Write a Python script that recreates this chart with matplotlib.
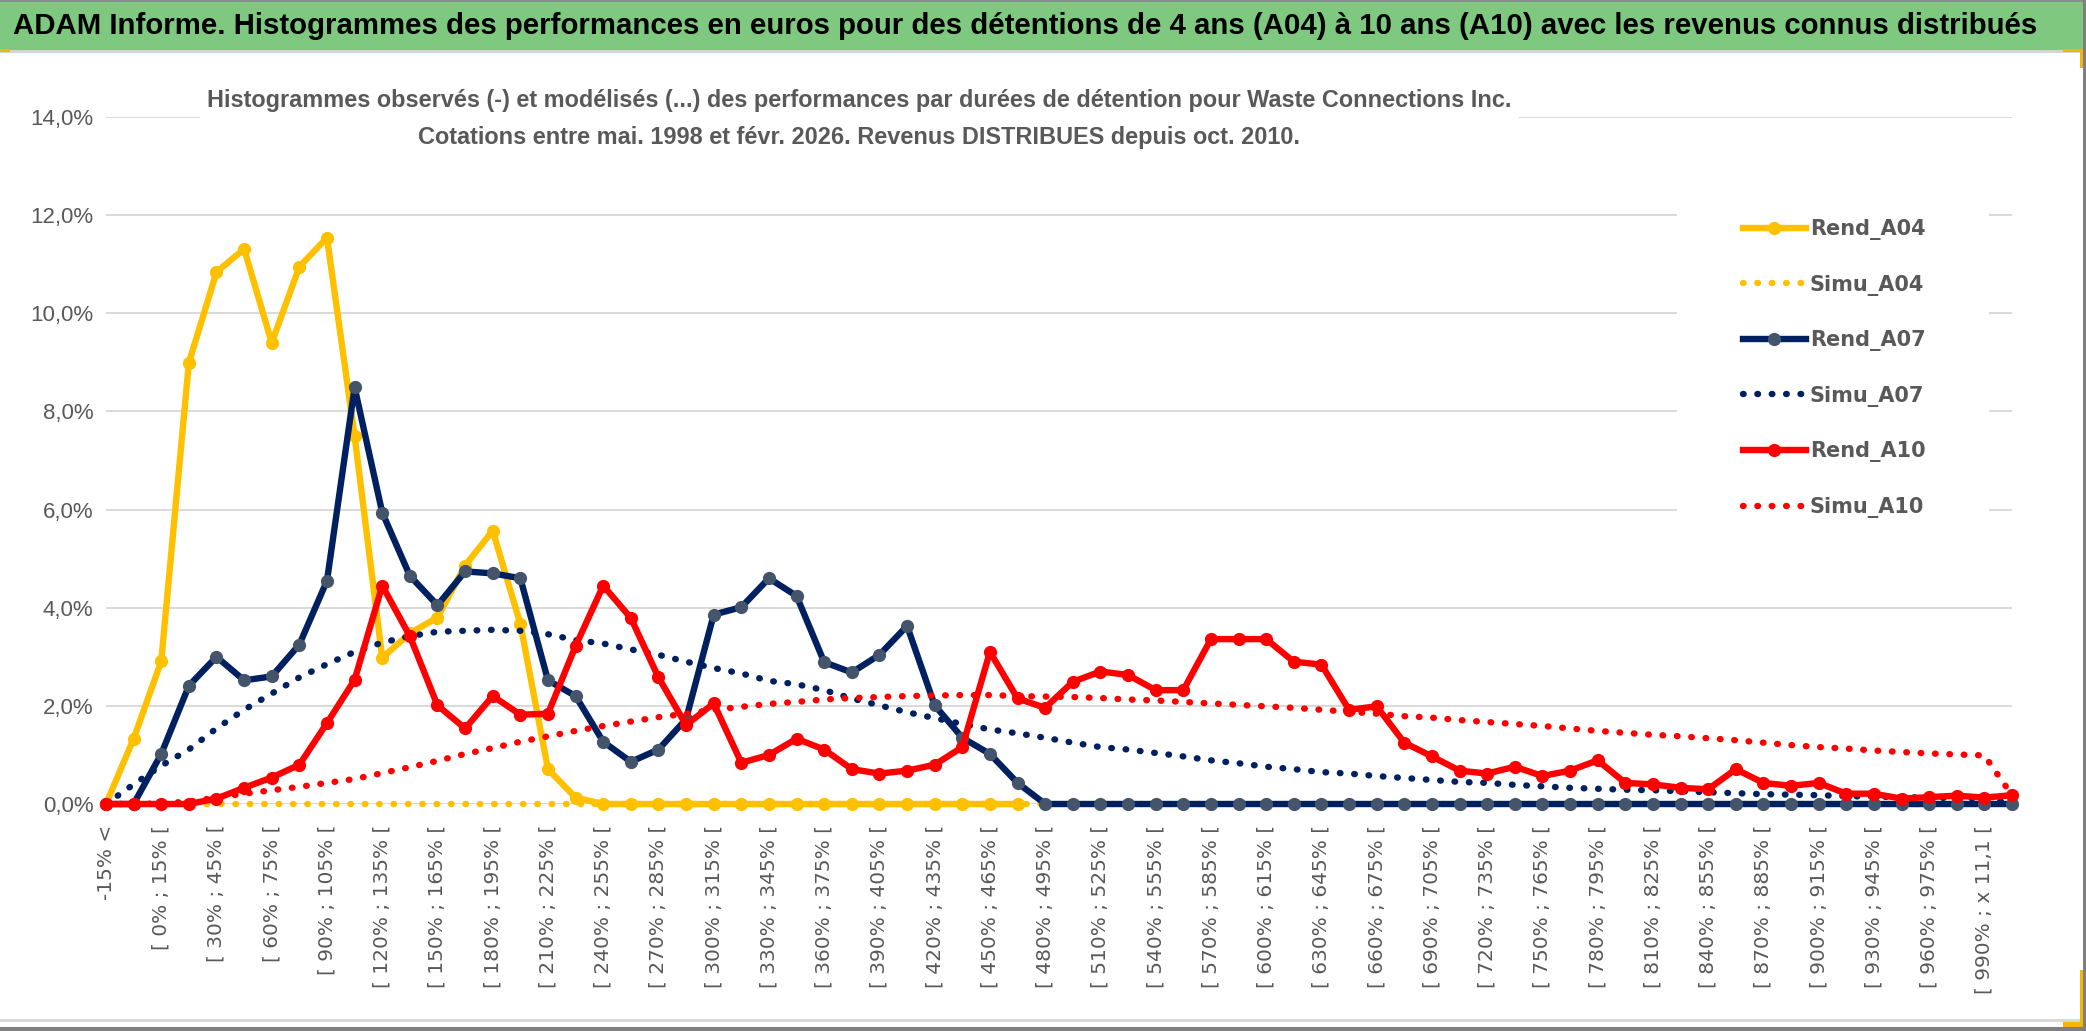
import matplotlib
matplotlib.use("Agg")
import matplotlib.pyplot as plt
from matplotlib.patches import Rectangle
from matplotlib.ticker import FuncFormatter
import numpy as np

W, H = 2086, 1031

NARROW = ['Liberation Sans Narrow', 'Liberation Sans', 'DejaVu Sans']
GRAY_TXT = '#595959'

# ---- data (values in %) ----
categories = [
    "-15% <", "[ -15% ; 0% [", "[ 0% ; 15% [", "[ 15% ; 30% [", "[ 30% ; 45% [",
    "[ 45% ; 60% [", "[ 60% ; 75% [", "[ 75% ; 90% [", "[ 90% ; 105% [", "[ 105% ; 120% [",
    "[ 120% ; 135% [", "[ 135% ; 150% [", "[ 150% ; 165% [", "[ 165% ; 180% [", "[ 180% ; 195% [",
    "[ 195% ; 210% [", "[ 210% ; 225% [", "[ 225% ; 240% [", "[ 240% ; 255% [", "[ 255% ; 270% [",
    "[ 270% ; 285% [", "[ 285% ; 300% [", "[ 300% ; 315% [", "[ 315% ; 330% [", "[ 330% ; 345% [",
    "[ 345% ; 360% [", "[ 360% ; 375% [", "[ 375% ; 390% [", "[ 390% ; 405% [", "[ 405% ; 420% [",
    "[ 420% ; 435% [", "[ 435% ; 450% [", "[ 450% ; 465% [", "[ 465% ; 480% [", "[ 480% ; 495% [",
    "[ 495% ; 510% [", "[ 510% ; 525% [", "[ 525% ; 540% [", "[ 540% ; 555% [", "[ 555% ; 570% [",
    "[ 570% ; 585% [", "[ 585% ; 600% [", "[ 600% ; 615% [", "[ 615% ; 630% [", "[ 630% ; 645% [",
    "[ 645% ; 660% [", "[ 660% ; 675% [", "[ 675% ; 690% [", "[ 690% ; 705% [", "[ 705% ; 720% [",
    "[ 720% ; 735% [", "[ 735% ; 750% [", "[ 750% ; 765% [", "[ 765% ; 780% [", "[ 780% ; 795% [",
    "[ 795% ; 810% [", "[ 810% ; 825% [", "[ 825% ; 840% [", "[ 840% ; 855% [", "[ 855% ; 870% [",
    "[ 870% ; 885% [", "[ 885% ; 900% [", "[ 900% ; 915% [", "[ 915% ; 930% [", "[ 930% ; 945% [",
    "[ 945% ; 960% [", "[ 960% ; 975% [", "[ 975% ; 990% [", "[ 990% ; x 11,1 [", "x 11,1 <",
]

nan = np.nan
rend_a04 = [0.0, 1.33, 2.91, 8.99, 10.84, 11.31, 9.40, 10.95, 11.54, 7.50,
            2.98, 3.48, 3.80, 4.86, 5.57, 3.67, 0.71, 0.13, 0.0, 0.0,
            0.0, 0.0, 0.0, 0.0, 0.0, 0.0, 0.0, 0.0, 0.0, 0.0,
            0.0, 0.0, 0.0, 0.0, nan, nan, nan, nan, nan, nan,
            nan, nan, nan, nan, nan, nan, nan, nan, nan, nan,
            nan, nan, nan, nan, nan, nan, nan, nan, nan, nan,
            nan, nan, nan, nan, nan, nan, nan, nan, nan, nan]
simu_a04 = [0.0, 0.0, 0.0, 0.0, 0.0, 0.0, 0.0, 0.0, 0.0, 0.0,
            0.0, 0.0, 0.0, 0.0, 0.0, 0.0, 0.0, 0.0, 0.0, 0.0,
            0.0, 0.0, 0.0, 0.0, 0.0, 0.0, 0.0, 0.0, 0.0, 0.0,
            0.0, 0.0, 0.0, 0.0, 0.0, 0.0, 0.0, 0.0, 0.0, 0.0,
            0.0, 0.0, 0.0, 0.0, 0.0, 0.0, 0.0, 0.0, 0.0, 0.0,
            0.0, 0.0, 0.0, 0.0, 0.0, 0.0, 0.0, 0.0, 0.0, 0.0,
            0.0, 0.0, 0.0, 0.0, 0.0, 0.0, 0.0, 0.0, 0.0, 0.0]
rend_a07 = [0.0, 0.0, 1.02, 2.41, 3.00, 2.52, 2.60, 3.25, 4.55, 8.49,
            5.94, 4.65, 4.05, 4.74, 4.70, 4.60, 2.52, 2.20, 1.27, 0.86,
            1.11, 1.73, 3.86, 4.01, 4.60, 4.24, 2.89, 2.68, 3.04, 3.63,
            2.01, 1.35, 1.02, 0.43, 0.0, 0.0, 0.0, 0.0, 0.0, 0.0,
            0.0, 0.0, 0.0, 0.0, 0.0, 0.0, 0.0, 0.0, 0.0, 0.0,
            0.0, 0.0, 0.0, 0.0, 0.0, 0.0, 0.0, 0.0, 0.0, 0.0,
            0.0, 0.0, 0.0, 0.0, 0.0, 0.0, 0.0, 0.0, 0.0, 0.0]
simu_a07 = [0.0, 0.40, 0.78, 1.11, 1.54, 1.92, 2.25, 2.58, 2.85, 3.10,
            3.29, 3.42, 3.51, 3.53, 3.55, 3.53, 3.46, 3.34, 3.27, 3.15,
            3.04, 2.90, 2.77, 2.66, 2.51, 2.44, 2.32, 2.15, 2.01, 1.87,
            1.75, 1.63, 1.52, 1.44, 1.35, 1.25, 1.16, 1.11, 1.04, 0.97,
            0.89, 0.83, 0.76, 0.71, 0.65, 0.62, 0.57, 0.53, 0.49, 0.45,
            0.43, 0.39, 0.36, 0.33, 0.31, 0.29, 0.28, 0.26, 0.24, 0.22,
            0.20, 0.19, 0.18, 0.16, 0.15, 0.14, 0.13, 0.12, 0.11, 0.02]
rend_a10 = [0.0, 0.0, 0.0, 0.0, 0.11, 0.33, 0.54, 0.80, 1.65, 2.53,
            4.45, 3.42, 2.01, 1.54, 2.20, 1.82, 1.84, 3.22, 4.45, 3.79,
            2.58, 1.61, 2.05, 0.84, 1.00, 1.33, 1.11, 0.71, 0.62, 0.68,
            0.80, 1.16, 3.10, 2.15, 1.96, 2.49, 2.70, 2.63, 2.32, 2.32,
            3.36, 3.36, 3.36, 2.90, 2.84, 1.92, 1.99, 1.25, 0.97, 0.68,
            0.62, 0.76, 0.57, 0.68, 0.89, 0.43, 0.40, 0.33, 0.30, 0.71,
            0.43, 0.37, 0.43, 0.21, 0.21, 0.11, 0.14, 0.17, 0.13, 0.18]
simu_a10 = [0.0, 0.0, 0.01, 0.05, 0.13, 0.21, 0.28, 0.35, 0.43, 0.51,
            0.63, 0.75, 0.88, 1.02, 1.14, 1.27, 1.38, 1.49, 1.59, 1.68,
            1.77, 1.84, 1.92, 1.98, 2.04, 2.08, 2.13, 2.16, 2.18, 2.20,
            2.21, 2.22, 2.22, 2.20, 2.19, 2.18, 2.16, 2.13, 2.11, 2.08,
            2.05, 2.02, 1.99, 1.96, 1.92, 1.88, 1.84, 1.79, 1.76, 1.71,
            1.67, 1.63, 1.59, 1.54, 1.49, 1.45, 1.41, 1.38, 1.34, 1.30,
            1.25, 1.20, 1.16, 1.13, 1.09, 1.06, 1.03, 1.01, 0.99, 0.18]

main_title = ("ADAM Informe. Histogrammes des performances en euros pour des détentions "
              "de 4 ans (A04) à 10 ans (A10) avec les revenus connus distribués")
chart_title_1 = ("Histogrammes observés (-) et modélisés (...) des performances par durées "
                 "de détention pour Waste Connections Inc.")
chart_title_2 = "Cotations entre mai. 1998 et févr. 2026. Revenus DISTRIBUES depuis oct. 2010."


def fx(px):
    return px / W


def fy(py):
    return 1 - py / H


def box(x0, y0, x1, y1, color, target, zorder=0):
    # rectangle given in pixels from the top-left corner
    r = Rectangle((fx(x0), fy(y1)), (x1 - x0) / W, (y1 - y0) / H,
                  transform=fig.transFigure, facecolor=color, edgecolor='none',
                  zorder=zorder)
    if target is fig:
        fig.add_artist(r)
    else:
        target.add_patch(r)


def fit_width(t, width_px):
    r = fig.canvas.get_renderer()
    w = t.get_window_extent(renderer=r).width
    t.set_fontsize(t.get_fontsize() * width_px / w)


fig = plt.figure(figsize=(W / 100, H / 100), dpi=100)
fig.patch.set_facecolor('white')

# frame of the sheet: green banner and borders
box(0, 0, W, 50, '#7ec880', fig)
box(0, 0, W, 2, '#8c8c8c', fig)
box(0, 50, W, 53, '#d4d4d4', fig)
box(0, 1019, 2082, 1022, '#d9d9d9', fig)
box(0, 1027, W, H, '#7f7f7f', fig)
box(2083, 0, W, H, '#7f7f7f', fig)
box(2063, 49, 2083, 52, '#f2b705', fig)
box(2080, 49, 2083, 68, '#f2b705', fig)
box(2063, 1022, 2083, 1027, '#f2b705', fig)
box(2080, 970, 2083, 1027, '#f2b705', fig)
box(0, 49, 10, 52, '#f2b705', fig)

ax = fig.add_axes([fx(106), fy(804), (2012 - 106) / W, (804 - 117) / H])
ax.set_xlim(0, len(categories) - 1)
ax.set_ylim(0, 14)
ax.set_axisbelow(True)
for s in ax.spines.values():
    s.set_visible(False)

x = np.arange(len(categories))
solid = dict(lw=4.6, marker='o', markersize=8.5, clip_on=False, solid_joinstyle='round')
dotted = dict(lw=4.6, linestyle=(0, (0.1, 2.15)), dash_capstyle='round', clip_on=False)

ax.plot(x, rend_a04, color='#FFC000', mfc='#FFC000', mec='#FFC000', label='Rend_A04', zorder=3, **solid)
ax.plot(x, simu_a04, color='#FFC000', label='Simu_A04', zorder=4, **dotted)
ax.plot(x, rend_a07, color='#002060', mfc='#44546A', mec='#44546A', label='Rend_A07', zorder=5, **solid)
ax.plot(x, simu_a07, color='#002060', label='Simu_A07', zorder=6, **dotted)
ax.plot(x, rend_a10, color='#FF0000', mfc='#FF0000', mec='#FF0000', label='Rend_A10', zorder=7, **solid)
ax.plot(x, simu_a10, color='#FF0000', label='Simu_A10', zorder=8, **dotted)

# ticks and grid
ax.set_yticks(np.arange(0, 14.1, 2))
ax.yaxis.set_major_formatter(FuncFormatter(lambda v, p: f"{v:.1f}%".replace('.', ',')))
ax.set_xticks(x[::2])
ax.set_xticklabels(categories[::2], rotation=90, family='DejaVu Sans', fontsize=14.5, color=GRAY_TXT)
ax.set_xticks(x[::4], minor=True)
ax.tick_params(axis='x', which='both', length=0, pad=15)
ax.tick_params(axis='y', length=0, pad=9, labelcolor=GRAY_TXT, labelsize=16)
for lab in ax.get_yticklabels():
    lab.set_family(NARROW)
ax.grid(axis='y', color='#d9d9d9', lw=1.4)
ax.grid(axis='x', which='minor', color='#d9d9d9', lw=1.4)
ax.grid(axis='x', which='major', visible=False)

# white areas behind the chart title and the legend
box(200, 53, 1519, 160, 'white', ax, zorder=1)
box(1677, 202, 1989, 549, 'white', ax, zorder=1)

leg = ax.legend(loc='upper left', bbox_to_anchor=(fx(1743), fy(219)),
                bbox_transform=fig.transFigure, frameon=False, borderpad=0,
                borderaxespad=0, handlelength=3.0, handletextpad=0.2,
                labelspacing=1.66, numpoints=1,
                prop=dict(family='DejaVu Sans', weight='bold', size=15))
for t in leg.get_texts():
    t.set_color(GRAY_TXT)

# titles
t0 = fig.text(fx(13), fy(26), main_title, ha='left', va='center',
              family=NARROW, weight='bold', color='black', fontsize=28)
t1 = fig.text(fx(859), fy(100), chart_title_1, ha='center', va='center',
              family=NARROW, weight='bold', color=GRAY_TXT, fontsize=18)
t2 = fig.text(fx(859), fy(137), chart_title_2, ha='center', va='center',
              family=NARROW, weight='bold', color=GRAY_TXT, fontsize=18)
fit_width(t0, 2022)
fit_width(t1, 1306)
t2.set_fontsize(t1.get_fontsize())

fig.savefig("out.png", dpi=100)
